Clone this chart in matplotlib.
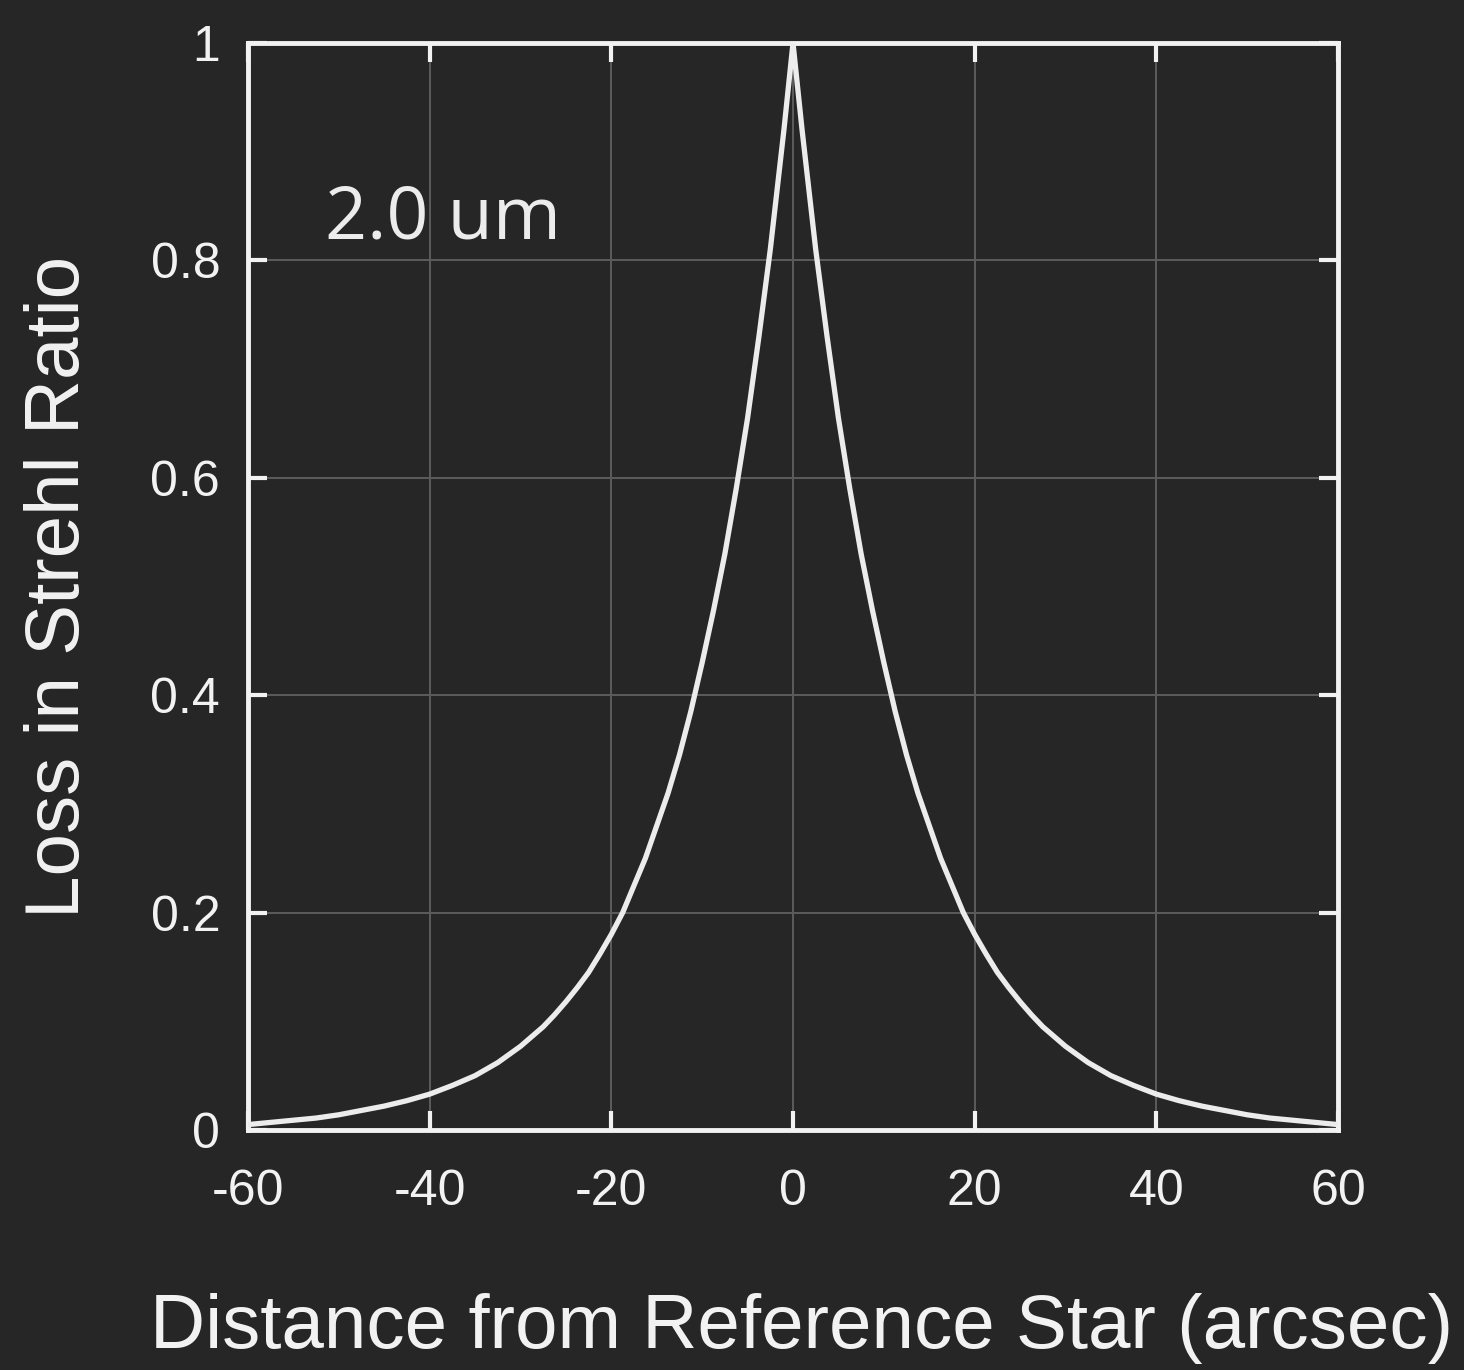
import matplotlib
matplotlib.use("Agg")
import matplotlib.pyplot as plt

# Data (curve is symmetric about 0)
dist_pos = [0, 1, 2.5, 3.75, 5, 6.25, 7.5, 8.75, 10, 11.25, 12.5, 13.75, 15, 16.25, 17.5,
            18.75, 20, 21.25, 22.5, 23.75, 25, 26.25, 27.5, 28.75, 30, 32.5, 35, 37.5, 40,
            42.5, 45, 47.5, 50, 52.5, 55, 57.5, 60]
loss_pos = [1.0, 0.92, 0.81, 0.73, 0.655, 0.59, 0.53, 0.478, 0.43, 0.385, 0.345, 0.31, 0.28,
            0.25, 0.225, 0.2, 0.18, 0.162, 0.145, 0.131, 0.118, 0.106, 0.095, 0.086, 0.077,
            0.062, 0.05, 0.041, 0.033, 0.027, 0.022, 0.018, 0.014, 0.011, 0.009, 0.007, 0.005]
distance = [-d for d in dist_pos[:0:-1]] + dist_pos
loss = loss_pos[:0:-1] + loss_pos

xticks = [-60, -40, -20, 0, 20, 40, 60]
xtick_labels = ["-60", "-40", "-20", "0", "20", "40", "60"]
yticks = [0, 0.2, 0.4, 0.6, 0.8, 1]
ytick_labels = ["0", "0.2", "0.4", "0.6", "0.8", "1"]

BG = "#262626"
FG = "#f2f2f2"

fig = plt.figure(figsize=(14.64, 13.70), dpi=100, facecolor=BG)
ax = fig.add_axes([248/1464, 1 - 1130/1370, (1338-248)/1464, (1130-43)/1370])
ax.set_facecolor(BG)

ax.plot(distance, loss, color="#ececec", lw=3.8, solid_joinstyle="round", zorder=3)

ax.set_xlim(-60, 60)
ax.set_ylim(0, 1)
ax.set_xticks(xticks)
ax.set_xticklabels(xtick_labels)
ax.set_yticks(yticks)
ax.set_yticklabels(ytick_labels)

ax.grid(True, color="#5c5c5c", lw=1.4, zorder=0)
for s in ax.spines.values():
    s.set_color(FG)
    s.set_linewidth(3.5)

ax.tick_params(direction="in", length=14, width=3, color=FG,
               top=True, right=True, labelcolor=FG, labelsize=36)
ax.tick_params(axis="x", pad=28)
ax.tick_params(axis="y", pad=20)
for lab in ax.get_xticklabels() + ax.get_yticklabels():
    lab.set_family("Liberation Sans")

ax.set_xlabel("Distance from Reference Star (arcsec)", color=FG, fontsize=55,
              family="Liberation Sans")
ax.xaxis.set_label_coords(0.508, -0.150)
ax.set_ylabel("Loss in Strehl Ratio", color=FG, fontsize=55,
              family="Liberation Sans", labelpad=40)

ax.text(-51.5, 0.82, "2.0 um", color="#ececec", fontsize=53, family="Open Sans",
        ha="left", va="baseline")

fig.savefig("out.png", dpi=100, facecolor=BG)
